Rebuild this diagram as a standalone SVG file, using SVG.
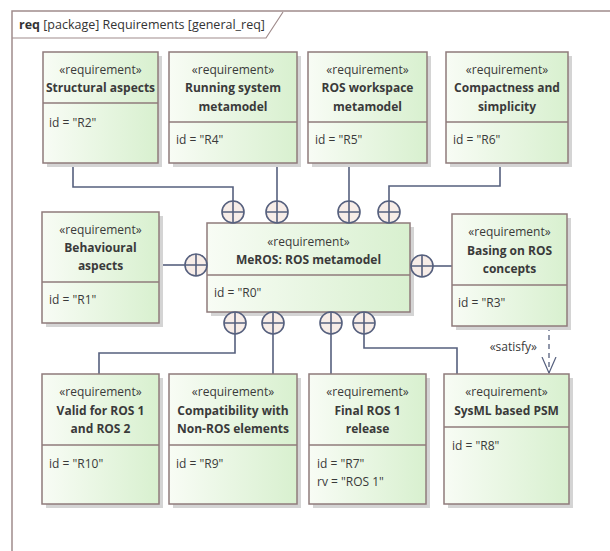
<svg xmlns="http://www.w3.org/2000/svg" width="610" height="551" viewBox="0 0 610 551">
<defs>
<linearGradient id="g" x1="0" y1="0" x2="1" y2="0">
<stop offset="0" stop-color="#f8fcf5"/>
<stop offset="1" stop-color="#d8f0cf"/>
</linearGradient>
<marker id="open" markerWidth="18" markerHeight="24" refX="16" refY="8" orient="auto" markerUnits="userSpaceOnUse">
<path d="M0,1 L16,8 L0,15" fill="none" stroke="#56607e" stroke-width="1.2"/>
</marker>
<symbol id="plus" overflow="visible">
<circle cx="0" cy="0" r="11" fill="#f7ede8" stroke="#56607e" stroke-width="1.6"/>
<path d="M-11,0 H11 M0,-11 V11" stroke="#56607e" stroke-width="1.6"/>
</symbol>
</defs>
<style>
.box{fill:url(#g);stroke:#8f7b7b;stroke-width:1.5}
.sh{fill:#d4d4d4}
.div{stroke:#8f7b7b;stroke-width:1.5}
.st{font-family:"Open Sans",sans-serif;font-size:12px;fill:#3a3a3a;text-anchor:middle}
.tt{font-family:"Open Sans",sans-serif;font-size:12px;font-weight:bold;fill:#3a3a3a;text-anchor:middle}
.at{font-family:"Open Sans",sans-serif;font-size:12px;fill:#3a3a3a}
.c{fill:none;stroke:#56607e;stroke-width:1.6}
</style>
<rect x="0" y="0" width="610" height="551" fill="#fff"/>
<g id="frame">
<path d="M12,560 V11 H612" fill="none" stroke="#a08c8c" stroke-width="1.5"/>
<path d="M12,38 H266 L283,12" fill="none" stroke="#a08c8c" stroke-width="1.2"/>
<text x="19" y="29" font-family="Open Sans,sans-serif" font-size="12.5" fill="#333"><tspan font-weight="bold">req</tspan> [package] Requirements [general_req]</text>
</g>

<g id="connectors">
<path class="c" d="M73,163 V187 H233 V201"/>
<path class="c" d="M277,163 V201"/>
<path class="c" d="M349,163 V201"/>
<path class="c" d="M500,163 V186 H389 V201"/>
<path class="c" d="M159,265 H185"/>
<path class="c" d="M433,266 H452"/>
<path class="c" d="M235,334 V353 H99 V374"/>
<path class="c" d="M273,334 V374"/>
<path class="c" d="M331,334 V374"/>
<path class="c" d="M364,334 V348 H457 V374"/>
<path d="M549,326 V373" fill="none" stroke="#56607e" stroke-width="1.3" stroke-dasharray="5,4" marker-end="url(#open)"/>
<text x="537" y="351" class="at" text-anchor="end">«satisfy»</text>
</g>

<g id="R2">
<rect class="sh" x="47" y="56" width="115" height="111"/>
<rect class="box" x="43" y="52" width="115" height="111"/>
<line class="div" x1="43" y1="103" x2="158" y2="103"/>
<text class="st" x="100.5" y="74">«requirement»</text>
<text class="tt" x="100.5" y="92">Structural aspects</text>
<text class="at" x="49" y="127">id = "R2"</text>
</g>
<g id="R4">
<rect class="sh" x="173" y="56" width="128" height="111"/>
<rect class="box" x="169" y="52" width="128" height="111"/>
<line class="div" x1="169" y1="122" x2="297" y2="122"/>
<text class="st" x="233" y="74">«requirement»</text>
<text class="tt" x="233" y="92">Running system</text>
<text class="tt" x="233" y="111">metamodel</text>
<text class="at" x="176" y="144">id = "R4"</text>
</g>
<g id="R5">
<rect class="sh" x="312" y="56" width="119" height="111"/>
<rect class="box" x="308" y="52" width="119" height="111"/>
<line class="div" x1="308" y1="122" x2="427" y2="122"/>
<text class="st" x="367.5" y="74">«requirement»</text>
<text class="tt" x="367.5" y="92">ROS workspace</text>
<text class="tt" x="367.5" y="111">metamodel</text>
<text class="at" x="315" y="144">id = "R5"</text>
</g>
<g id="R6">
<rect class="sh" x="450" y="56" width="122" height="111"/>
<rect class="box" x="446" y="52" width="122" height="111"/>
<line class="div" x1="446" y1="122" x2="568" y2="122"/>
<text class="st" x="507" y="74">«requirement»</text>
<text class="tt" x="507" y="92">Compactness and</text>
<text class="tt" x="507" y="111">simplicity</text>
<text class="at" x="453" y="144">id = "R6"</text>
</g>

<g id="R1">
<rect class="sh" x="46" y="216" width="117" height="111"/>
<rect class="box" x="42" y="212" width="117" height="111"/>
<line class="div" x1="42" y1="282" x2="159" y2="282"/>
<text class="st" x="100.5" y="234">«requirement»</text>
<text class="tt" x="100.5" y="252">Behavioural</text>
<text class="tt" x="100.5" y="270">aspects</text>
<text class="at" x="49" y="304">id = "R1"</text>
</g>
<g id="R0">
<rect class="sh" x="211" y="227" width="203" height="89"/>
<rect class="box" x="207" y="223" width="203" height="89"/>
<line class="div" x1="207" y1="275" x2="410" y2="275"/>
<text class="st" x="308.5" y="246">«requirement»</text>
<text class="tt" x="308.5" y="264">MeROS: ROS metamodel</text>
<text class="at" x="214" y="297">id = "R0"</text>
<use href="#plus" x="233" y="212"/>
<use href="#plus" x="277" y="212"/>
<use href="#plus" x="349" y="212"/>
<use href="#plus" x="389" y="212"/>
<use href="#plus" x="196" y="265"/>
<use href="#plus" x="422" y="266"/>
<use href="#plus" x="235" y="323"/>
<use href="#plus" x="273" y="323"/>
<use href="#plus" x="331" y="323"/>
<use href="#plus" x="364" y="323"/>
</g>
<g id="R3">
<rect class="sh" x="456" y="218" width="115" height="112"/>
<rect class="box" x="452" y="214" width="115" height="112"/>
<line class="div" x1="452" y1="285" x2="567" y2="285"/>
<text class="st" x="509.5" y="236">«requirement»</text>
<text class="tt" x="509.5" y="255">Basing on ROS</text>
<text class="tt" x="509.5" y="273">concepts</text>
<text class="at" x="458" y="307">id = "R3"</text>
</g>

<g id="R10">
<rect class="sh" x="46" y="378" width="117" height="130"/>
<rect class="box" x="42" y="374" width="117" height="130"/>
<line class="div" x1="42" y1="445" x2="159" y2="445"/>
<text class="st" x="100.5" y="396">«requirement»</text>
<text class="tt" x="100.5" y="415">Valid for ROS 1</text>
<text class="tt" x="100.5" y="433">and ROS 2</text>
<text class="at" x="49" y="468">id = "R10"</text>
</g>
<g id="R9">
<rect class="sh" x="173" y="378" width="128" height="130"/>
<rect class="box" x="169" y="374" width="128" height="130"/>
<line class="div" x1="169" y1="445" x2="297" y2="445"/>
<text class="st" x="233" y="396">«requirement»</text>
<text class="tt" x="233" y="415">Compatibility with</text>
<text class="tt" x="233" y="433">Non-ROS elements</text>
<text class="at" x="176" y="468">id = "R9"</text>
</g>
<g id="R7">
<rect class="sh" x="313" y="378" width="117" height="130"/>
<rect class="box" x="309" y="374" width="117" height="130"/>
<line class="div" x1="309" y1="445" x2="426" y2="445"/>
<text class="st" x="367.5" y="396">«requirement»</text>
<text class="tt" x="367.5" y="415">Final ROS 1</text>
<text class="tt" x="367.5" y="433">release</text>
<text class="at" x="317" y="468">id = "R7"</text>
<text class="at" x="317" y="486">rv = "ROS 1"</text>
</g>
<g id="R8">
<rect class="sh" x="448" y="378" width="125" height="130"/>
<rect class="box" x="444" y="374" width="125" height="130"/>
<line class="div" x1="444" y1="427" x2="569" y2="427"/>
<text class="st" x="506.5" y="396">«requirement»</text>
<text class="tt" x="506.5" y="415">SysML based PSM</text>
<text class="at" x="452" y="450">id = "R8"</text>
</g>
</svg>
